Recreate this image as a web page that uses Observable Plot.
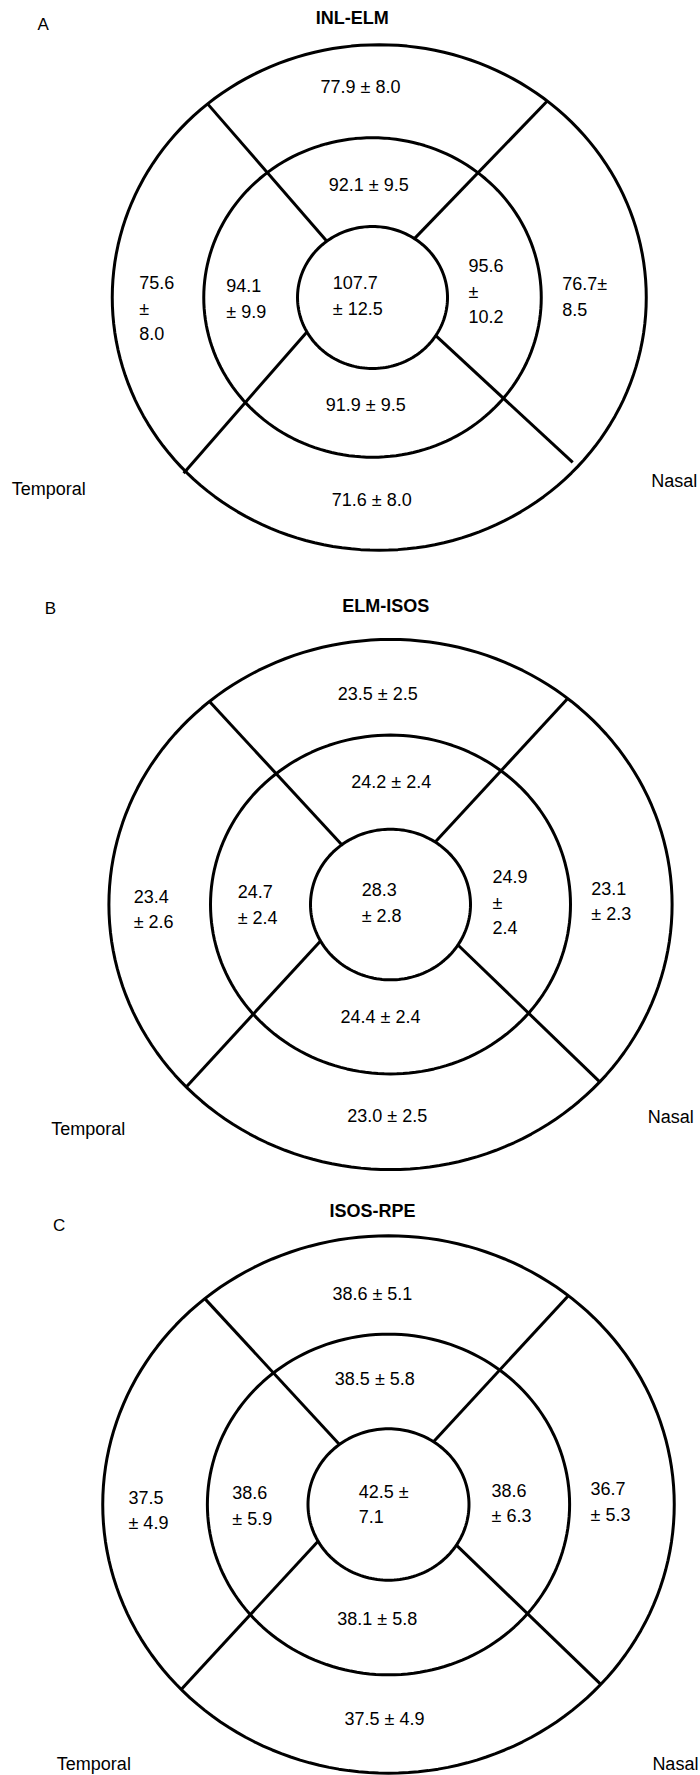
<!DOCTYPE html>
<html>
<head>
<meta charset="utf-8">
<script src="https://cdn.jsdelivr.net/npm/d3@7"></script>
<script src="https://cdn.jsdelivr.net/npm/@observablehq/plot@0.6"></script>
<style>
  html, body { margin: 0; padding: 0; background: #fff; }
  #chart { width: 700px; }
  #chart svg { display: block; }
</style>
</head>
<body>
<div id="chart"></div>
<script>
// ---- Data (mean ± SD, µm) ----
const panels = ["A", "B", "C"];
const titles = ["INL-ELM", "ELM-ISOS", "ISOS-RPE"];
const sectors = ["center", "innerTop", "innerNasal", "innerBottom", "innerTemporal",
                 "outerTop", "outerNasal", "outerBottom", "outerTemporal"];
const meansA = [107.7, 92.1, 95.6, 91.9, 94.1, 77.9, 76.7, 71.6, 75.6];
const sdsA   = [12.5, 9.5, 10.2, 9.5, 9.9, 8.0, 8.5, 8.0, 8.0];
const meansB = [28.3, 24.2, 24.9, 24.4, 24.7, 23.5, 23.1, 23.0, 23.4];
const sdsB   = [2.8, 2.4, 2.4, 2.4, 2.4, 2.5, 2.3, 2.5, 2.6];
const meansC = [42.5, 38.5, 38.6, 38.1, 38.6, 38.6, 36.7, 37.5, 37.5];
const sdsC   = [7.1, 5.8, 6.3, 5.8, 5.9, 5.1, 5.3, 4.9, 4.9];
const sideLabels = ["Temporal", "Nasal"];
// line-break style of each label, as printed
const wrapA = ["2", "1", "3", "1", "2", "1", "2t", "1", "3"];
const wrapB = ["2", "1", "3", "1", "2", "1", "2", "1", "2"];
const wrapC = ["2s", "1", "2", "1", "2", "1", "2", "1", "2"];

// ---- Layout (grid units: inner ring radius = 1) ----
const anchors = ["start", "middle", "start", "middle", "start", "middle", "start", "middle", "start"];
const spokeAngles = [[127.5, 130], [56, 51], [209, 223.5], [327.5, 318]]; // [at inner ring, at outer ring], degrees
const layout = {
  A: {height: 590, x: [-4.96, 4.373], y: [-4.127, 4.183], rings: [1, 2.25, 3.56], outerDx: 0.09,
      spokeEnd: [1, 1, 1.01, 0.975],
      pos: [[-0.53,0.05],[-0.05,1.61],[1.28,0.11],[-0.09,-1.49],[-1.95,0.01],[-0.16,2.99],[2.53,0.04],[-0.01,-2.82],[-3.11,-0.13]],
      letter: [-4.39, 3.85], title: [-0.27, 3.94], temporal: [-4.81, -2.70], nasal: [4.33, -2.59]},
  B: {height: 590, x: [-4.875, 3.875], y: [-3.665, 4.170], rings: [1, 2.25, 3.52], outerDx: 0,
      spokeEnd: [1, 1, 1, 1],
      pos: [[-0.36,0.05],[0.01,1.65],[1.275,0.05],[-0.125,-1.47],[-1.91,0.02],[-0.16,2.82],[2.51,0.07],[-0.04,-2.78],[-3.21,-0.04]],
      letter: [-4.25, 3.93], title: [-0.06, 3.96], temporal: [-4.24, -2.99], nasal: [3.79, -2.83]},
  C: {height: 595, x: [-4.820, 3.876], y: [-3.580, 4.280], rings: [1, 2.25, 3.55], outerDx: 0,
      spokeEnd: [1, 1, 1, 1],
      pos: [[-0.37,0.03],[-0.17,1.69],[1.28,0.04],[-0.14,-1.49],[-1.94,0.01],[-0.2,2.81],[2.51,0.06],[-0.05,-2.80],[-3.23,-0.05]],
      letter: [-4.09, 3.68], title: [-0.20, 3.88], temporal: [-4.12, -3.43], nasal: [3.85, -3.43]}
};

const values = {A: [meansA, sdsA, wrapA], B: [meansB, sdsB, wrapB], C: [meansC, sdsC, wrapC]};

function fmt(m, s, w) {
  const a = m.toFixed(1), b = s.toFixed(1);
  if (w === "1") return `${a} ± ${b}`;
  if (w === "2") return `${a}\n± ${b}`;
  if (w === "3") return `${a}\n±\n${b}`;
  if (w === "2t") return `${a}±\n${b}`;
  if (w === "2s") return `${a} ±\n${b}`;
  return `${a} ± ${b}`;
}

const font = "Liberation Sans, Arial, Helvetica, sans-serif";
const rad = d => d * Math.PI / 180;

panels.forEach((p, pi) => {
  const g = layout[p];
  const [means, sds, wraps] = values[p];
  // ring outlines
  const ringPts = [];
  g.rings.forEach((r, ri) => {
    const dx = ri === 2 ? g.outerDx : 0;
    const n = 180;
    for (let i = 0; i < n; i++) {
      const t = 2 * Math.PI * i / n;
      ringPts.push({ring: ri, x: dx + r * Math.cos(t), y: r * Math.sin(t)});
    }
  });
  const R = g.rings[2];
  const spokes = spokeAngles.map(([a1, a2], si) => ({
    x1: Math.cos(rad(a1)), y1: Math.sin(rad(a1)),
    x2: g.outerDx + R * g.spokeEnd[si] * Math.cos(rad(a2)), y2: R * g.spokeEnd[si] * Math.sin(rad(a2))
  }));
  const labels = sectors.map((s, i) => ({
    sector: s, text: fmt(means[i], sds[i], wraps[i]),
    x: g.pos[i][0], y: g.pos[i][1], anchor: anchors[i]
  }));
  const textOpts = {x: "x", y: "y", text: "text", lineAnchor: "middle", fontSize: 18,
                    lineHeight: 1.42, fill: "black", fontFamily: font};

  const chart = Plot.plot({
    width: 700,
    height: g.height,
    margin: 0,
    x: {domain: g.x, axis: null},
    y: {domain: g.y, axis: null},
    style: {background: "white", fontFamily: font, overflow: "visible"},
    marks: [
      Plot.line(ringPts, {x: "x", y: "y", z: "ring", curve: "linear-closed", stroke: "black", strokeWidth: 3, fill: "none"}),
      Plot.link(spokes, {x1: "x1", y1: "y1", x2: "x2", y2: "y2", stroke: "black", strokeWidth: 3}),
      Plot.text(labels.filter(d => d.anchor === "middle"), {...textOpts, textAnchor: "middle"}),
      Plot.text(labels.filter(d => d.anchor === "start"), {...textOpts, textAnchor: "start"}),
      Plot.text([{t: p}], {x: () => g.letter[0], y: () => g.letter[1], text: "t", fontSize: 17, fill: "black", textAnchor: "middle", fontFamily: font}),
      Plot.text([{t: titles[pi]}], {x: () => g.title[0], y: () => g.title[1], text: "t", fontSize: 18, fontWeight: "bold", fill: "black", textAnchor: "middle", fontFamily: font}),
      Plot.text([{t: sideLabels[0]}], {x: () => g.temporal[0], y: () => g.temporal[1], text: "t", fontSize: 18, fill: "black", textAnchor: "start", fontFamily: font}),
      Plot.text([{t: sideLabels[1]}], {x: () => g.nasal[0], y: () => g.nasal[1], text: "t", fontSize: 18, fill: "black", textAnchor: "end", fontFamily: font})
    ]
  });
  document.getElementById("chart").appendChild(chart);
});
</script>
</body>
</html>
